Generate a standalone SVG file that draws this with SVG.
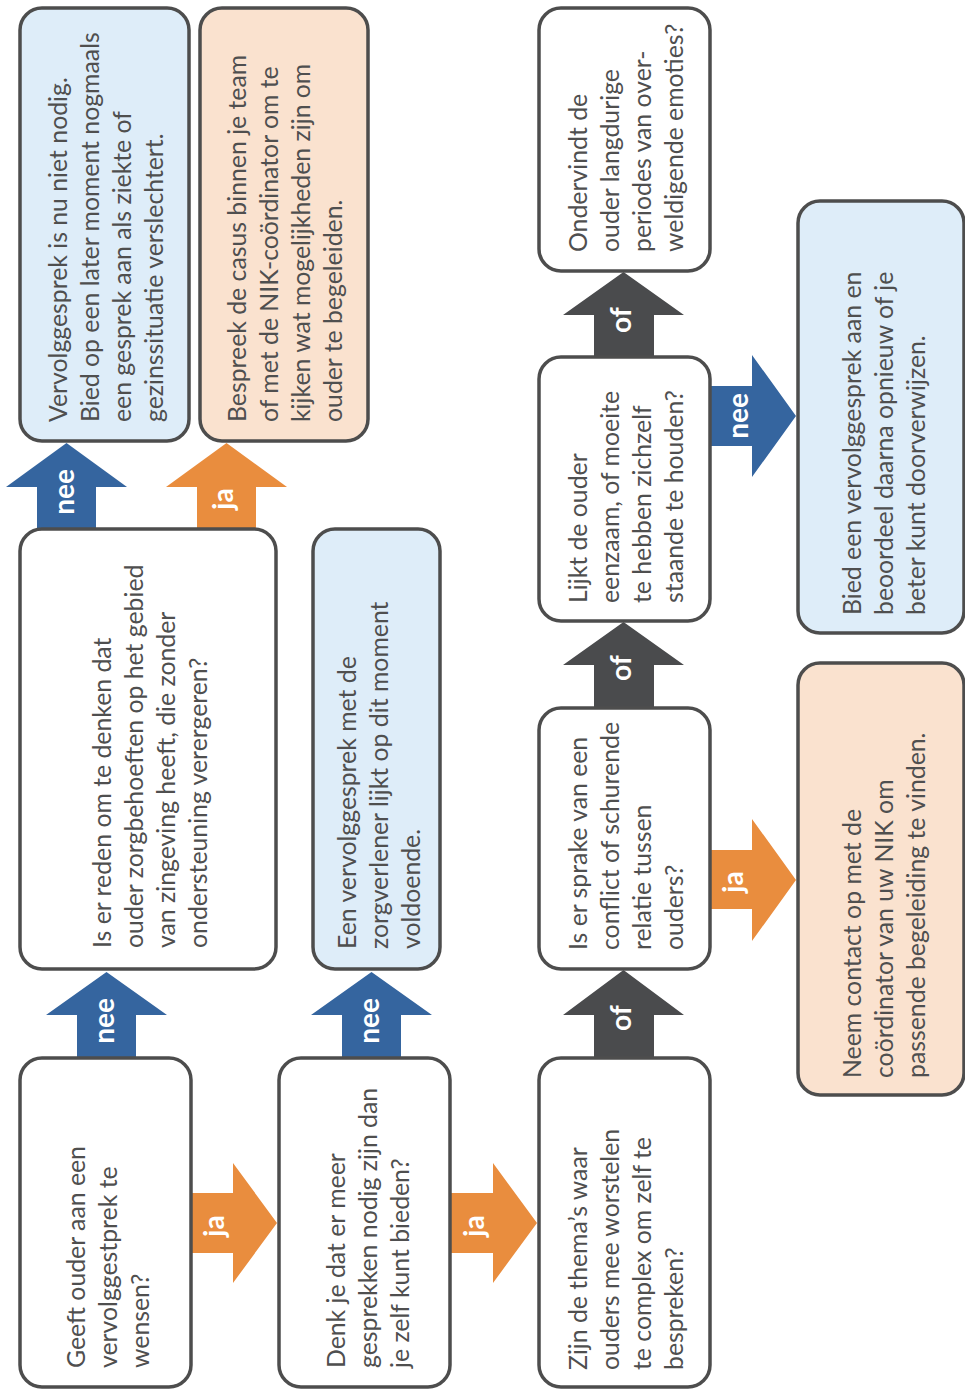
<svg xmlns="http://www.w3.org/2000/svg" width="965" height="1390" viewBox="0 0 965 1390">
<style>
.box{stroke:#4d4d4d;stroke-width:3.5;}
.w{fill:#ffffff;}
.b{fill:#deedf9;}
.p{fill:#fae2cf;}
.t{font-family:Lato,"Open Sans","Liberation Sans",sans-serif;font-size:24.8px;fill:#4f4f4f;}
.lab{font-family:Lato,"Liberation Sans",sans-serif;font-size:28px;font-weight:700;fill:#ffffff;text-anchor:middle;}
.nee{fill:#35659f;}
.ja{fill:#e98d3e;}
.of{fill:#4a4b4d;}
</style>
<rect width="965" height="1390" fill="#ffffff"/>
<g id="connectors">
<polygon class="nee" points="37,529 37,487 6,487 66.5,443 127,487 96,487 96,529"/>
<polygon class="ja" points="197,529 197,487 166,487 226.5,443 287,487 256,487 256,529"/>
<polygon class="nee" points="77,1057 77,1015 46,1015 106.5,972 167,1015 136,1015 136,1057"/>
<polygon class="nee" points="342,1057 342,1015 311,1015 371.5,972 432,1015 401,1015 401,1057"/>
<polygon class="of" points="594,1058 594,1015 563,1015 623.5,970 684,1015 654,1015 654,1058"/>
<polygon class="of" points="594,708 594,665 563,665 623.5,622 684,665 654,665 654,708"/>
<polygon class="of" points="594,357 594,315 563,315 623.5,272 684,315 654,315 654,357"/>
<polygon class="ja" points="191,1193 233,1193 233,1163 277,1223 233,1283 233,1253 191,1253"/>
<polygon class="ja" points="450,1193 493,1193 493,1163 537,1223 493,1283 493,1253 450,1253"/>
<polygon class="nee" points="711,386 752,386 752,355 796,416 752,477 752,446 711,446"/>
<polygon class="ja" points="711,850 752,850 752,819 796,880 752,941 752,909 711,909"/>
<text class="lab" transform="translate(74,492) rotate(-90)">nee</text>
<text class="lab" transform="translate(233,499) rotate(-90)">ja</text>
<text class="lab" transform="translate(114,1021) rotate(-90)">nee</text>
<text class="lab" transform="translate(379,1021) rotate(-90)">nee</text>
<text class="lab" transform="translate(631,1018) rotate(-90)">of</text>
<text class="lab" transform="translate(631,668) rotate(-90)">of</text>
<text class="lab" transform="translate(631,320) rotate(-90)">of</text>
<text class="lab" transform="translate(224,1226) rotate(-90)">ja</text>
<text class="lab" transform="translate(484,1226) rotate(-90)">ja</text>
<text class="lab" transform="translate(748,416) rotate(-90)">nee</text>
<text class="lab" transform="translate(743,882) rotate(-90)">ja</text>
</g>
<g id="n1">
<rect class="box b" x="20" y="8" width="169" height="433" rx="22"/>
<text class="t" transform="translate(67,422) rotate(-90)"><tspan x="0" y="0">Vervolggesprek is nu niet nodig.</tspan><tspan x="0" dy="32">Bied op een later moment nogmaals</tspan><tspan x="0" dy="32">een gesprek aan als ziekte of</tspan><tspan x="0" dy="32">gezinssituatie verslechtert.</tspan></text>
</g>
<g id="n2">
<rect class="box p" x="200" y="8" width="168" height="433" rx="22"/>
<text class="t" transform="translate(246,422) rotate(-90)"><tspan x="0" y="0">Bespreek de casus binnen je team</tspan><tspan x="0" dy="32">of met de NIK-coördinator om te</tspan><tspan x="0" dy="32">kijken wat mogelijkheden zijn om</tspan><tspan x="0" dy="32">ouder te begeleiden.</tspan></text>
</g>
<g id="n3">
<rect class="box w" x="20" y="529" width="256" height="440" rx="22"/>
<text class="t" transform="translate(111,948) rotate(-90)"><tspan x="0" y="0">Is er reden om te denken dat</tspan><tspan x="0" dy="32">ouder zorgbehoeften op het gebied</tspan><tspan x="0" dy="32">van zingeving heeft, die zonder</tspan><tspan x="0" dy="32">ondersteuning verergeren?</tspan></text>
</g>
<g id="n4">
<rect class="box b" x="313" y="529" width="127" height="440" rx="22"/>
<text class="t" transform="translate(356,949) rotate(-90)"><tspan x="0" y="0">Een vervolggesprek met de</tspan><tspan x="0" dy="32">zorgverlener lijkt op dit moment</tspan><tspan x="0" dy="32">voldoende.</tspan></text>
</g>
<g id="n5">
<rect class="box w" x="20" y="1058" width="171" height="329" rx="22"/>
<text class="t" transform="translate(85,1368) rotate(-90)"><tspan x="0" y="0">Geeft ouder aan een</tspan><tspan x="0" dy="32">vervolggestprek te</tspan><tspan x="0" dy="32">wensen?</tspan></text>
</g>
<g id="n6">
<rect class="box w" x="279" y="1058" width="171" height="329" rx="22"/>
<text class="t" transform="translate(345,1368) rotate(-90)"><tspan x="0" y="0">Denk je dat er meer</tspan><tspan x="0" dy="32">gesprekken nodig zijn dan</tspan><tspan x="0" dy="32">je zelf kunt bieden?</tspan></text>
</g>
<g id="n7">
<rect class="box w" x="539" y="1058" width="171" height="329" rx="22"/>
<text class="t" transform="translate(587,1370) rotate(-90)"><tspan x="0" y="0">Zijn de thema’s waar</tspan><tspan x="0" dy="32">ouders mee worstelen</tspan><tspan x="0" dy="32">te complex om zelf te</tspan><tspan x="0" dy="32">bespreken?</tspan></text>
</g>
<g id="n8">
<rect class="box w" x="539" y="8" width="171" height="263" rx="22"/>
<text class="t" transform="translate(587,252) rotate(-90)"><tspan x="0" y="0">Ondervindt de</tspan><tspan x="0" dy="32">ouder langdurige</tspan><tspan x="0" dy="32">periodes van over-</tspan><tspan x="0" dy="32">weldigende emoties?</tspan></text>
</g>
<g id="n9">
<rect class="box w" x="539" y="357" width="171" height="264" rx="22"/>
<text class="t" transform="translate(587,603) rotate(-90)"><tspan x="0" y="0">Lijkt de ouder</tspan><tspan x="0" dy="32">eenzaam, of moeite</tspan><tspan x="0" dy="32">te hebben zichzelf</tspan><tspan x="0" dy="32">staande te houden?</tspan></text>
</g>
<g id="n10">
<rect class="box w" x="539" y="708" width="171" height="261" rx="22"/>
<text class="t" transform="translate(587,950) rotate(-90)"><tspan x="0" y="0">Is er sprake van een</tspan><tspan x="0" dy="32">conflict of schurende</tspan><tspan x="0" dy="32">relatie tussen</tspan><tspan x="0" dy="32">ouders?</tspan></text>
</g>
<g id="n11">
<rect class="box b" x="798" y="201" width="166" height="432" rx="22"/>
<text class="t" transform="translate(861,615) rotate(-90)"><tspan x="0" y="0">Bied een vervolggesprek aan en</tspan><tspan x="0" dy="32">beoordeel daarna opnieuw of je</tspan><tspan x="0" dy="32">beter kunt doorverwijzen.</tspan></text>
</g>
<g id="n12">
<rect class="box p" x="798" y="663" width="166" height="432" rx="22"/>
<text class="t" transform="translate(861,1078) rotate(-90)"><tspan x="0" y="0">Neem contact op met de</tspan><tspan x="0" dy="32">coördinator van uw NIK om</tspan><tspan x="0" dy="32">passende begeleiding te vinden.</tspan></text>
</g>
</svg>
